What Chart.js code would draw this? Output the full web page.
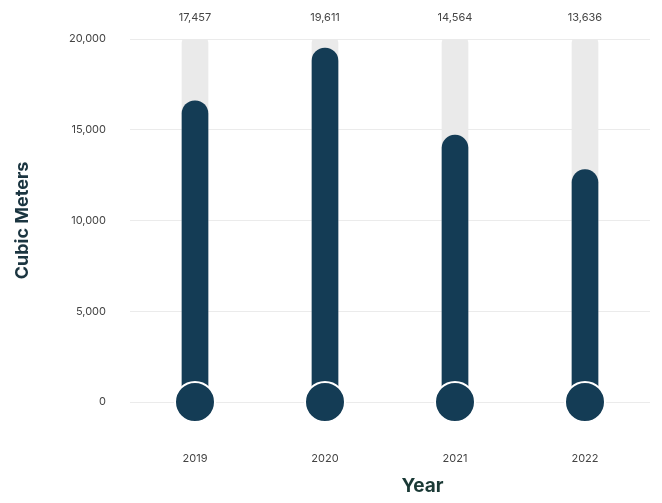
<!DOCTYPE html>
<html>
<head>
<meta charset="utf-8">
<script src="https://cdn.jsdelivr.net/npm/chart.js@4"></script>
<style>
  html, body { margin: 0; padding: 0; background: #fff; overflow: hidden; }
</style>
</head>
<body>
<canvas id="chart" width="662" height="503"></canvas>
<script>
const years = ['2019', '2020', '2021', '2022'];
// values printed above each column
const labelValues = [17457, 19611, 14564, 13636];
// heights of the dark columns as drawn in the picture
const barValues = [16600, 19500, 14700, 12800];
const maxValues = [20000, 20000, 20000, 20000];
const baseValues = [0, 0, 0, 0];

const dark = '#143c55';

// value labels above the columns, and the x title which sits right of centre
const extraText = {
  id: 'extraText',
  afterDatasetsDraw(chart) {
    const ctx = chart.ctx;
    const x = chart.scales.x;
    ctx.save();
    ctx.font = '11px Inter';
    ctx.fillStyle = '#444';
    ctx.textAlign = 'center';
    ctx.textBaseline = 'middle';
    labelValues.forEach((v, i) => {
      ctx.fillText(v.toLocaleString('en-US'), x.getPixelForValue(i), 18);
    });
    ctx.font = 'bold 19px Inter';
    ctx.fillStyle = '#1b3a36';
    ctx.fillText('Year', x.getPixelForValue(1.75), 486);
    ctx.restore();
  }
};

new Chart(document.getElementById('chart'), {
  type: 'bar',
  data: {
    labels: years,
    datasets: [
      {
        type: 'line',
        data: baseValues,
        showLine: false,
        pointRadius: 20,
        pointHoverRadius: 20,
        pointBackgroundColor: dark,
        pointBorderColor: '#fff',
        pointBorderWidth: 2,
        clip: false,
        order: 0
      },
      {
        data: barValues,
        backgroundColor: dark,
        barThickness: 26,
        grouped: false,
        borderRadius: { topLeft: 13, topRight: 13 },
        borderSkipped: false,
        order: 1
      },
      {
        data: maxValues,
        backgroundColor: '#eaeaea',
        barThickness: 26,
        grouped: false,
        borderRadius: { topLeft: 4, topRight: 4 },
        order: 2
      }
    ]
  },
  options: {
    responsive: false,
    animation: false,
    layout: { autoPadding: false, padding: { top: 39, right: 12, left: 8, bottom: 0 } },
    plugins: {
      legend: { display: false },
      tooltip: { enabled: false }
    },
    scales: {
      x: {
        grid: { display: false },
        border: { display: false },
        ticks: { color: '#444', font: { family: 'Inter', size: 11 }, padding: 42 },
        afterFit(scale) { scale.height = 101; }
      },
      y: {
        min: 0,
        max: 20000,
        ticks: {
          stepSize: 5000,
          color: '#444',
          font: { family: 'Inter', size: 11 },
          padding: 24,
          callback: v => v.toLocaleString('en-US')
        },
        grid: { color: '#ebebeb', drawTicks: false },
        border: { display: false },
        title: {
          display: true,
          text: 'Cubic Meters',
          color: '#1b3540',
          font: { family: 'Inter', size: 18, weight: 'bold' },
          padding: { top: 4, bottom: 0 }
        },
        afterFit(scale) { scale.width = 122; }
      }
    }
  },
  plugins: [extraText]
});
</script>
</body>
</html>
